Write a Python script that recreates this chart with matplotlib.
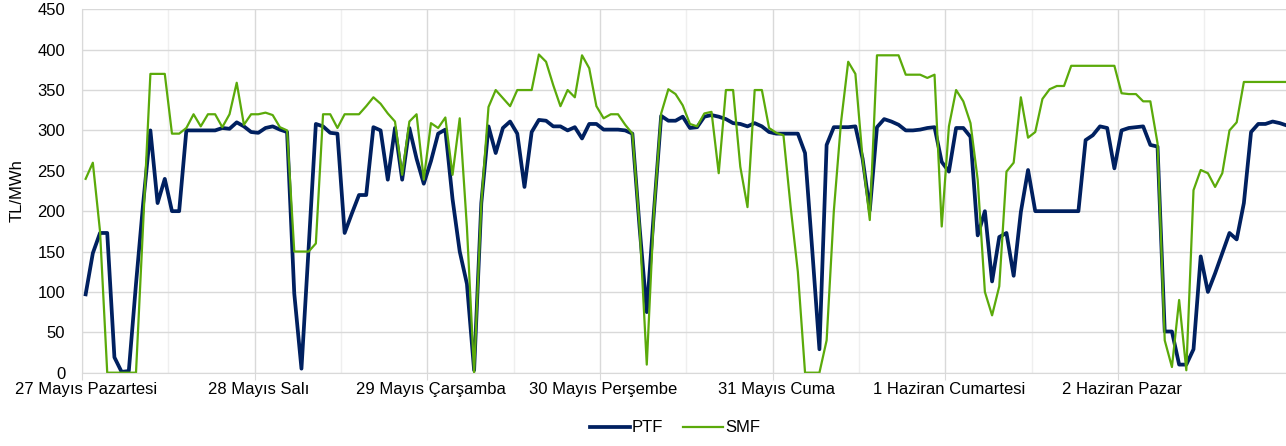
import numpy as np
import matplotlib
matplotlib.use('Agg')
import matplotlib.pyplot as plt

matplotlib.rcParams.update({'font.size': 12, 'font.family': ['Liberation Sans', 'DejaVu Sans']})

days = ['27 Mayıs Pazartesi', '28 Mayıs Salı', '29 Mayıs Çarşamba', '30 Mayıs Perşembe',
        '31 Mayıs Cuma', '1 Haziran Cumartesi', '2 Haziran Pazar']

# hourly prices, TL/MWh, one row per day
ptf_days = [
    [97, 148, 173, 173, 19, 1, 2, 110, 210, 300, 210, 240, 200, 200, 300, 300, 300, 300, 300, 303, 302, 310, 305, 298],
    [297, 303, 305, 301, 298, 98, 5, 155, 308, 305, 297, 296, 173, 197, 220, 220, 304, 300, 239, 303, 239, 303, 265, 234],
    [262, 296, 301, 215, 150, 110, 3, 210, 305, 272, 303, 311, 296, 230, 298, 313, 312, 305, 305, 300, 304, 290, 308, 308],
    [301, 301, 301, 300, 296, 180, 75, 200, 318, 312, 312, 317, 303, 304, 317, 319, 317, 314, 309, 308, 305, 309, 305, 298],
    [296, 296, 296, 296, 272, 152, 29, 282, 304, 304, 304, 305, 265, 201, 304, 314, 311, 307, 300, 300, 301, 303, 304, 261],
    [249, 303, 303, 292, 170, 200, 113, 168, 173, 120, 199, 251, 200, 200, 200, 200, 200, 200, 200, 288, 294, 305, 303, 253],
    [300, 303, 304, 305, 282, 280, 51, 51, 10, 10, 29, 144, 100, 123, 148, 173, 165, 210, 298, 308, 308, 311, 309, 306],
]
smf_days = [
    [240, 260, 175, 0, 0, 0, 0, 0, 185, 370, 370, 370, 296, 296, 303, 320, 305, 320, 320, 304, 320, 359, 307, 320],
    [320, 322, 319, 304, 300, 150, 150, 150, 160, 320, 320, 303, 320, 320, 320, 330, 341, 333, 321, 311, 245, 311, 320, 239],
    [309, 303, 316, 245, 315, 180, 0, 210, 329, 350, 340, 330, 350, 350, 350, 394, 385, 356, 330, 350, 341, 393, 377, 330],
    [315, 320, 320, 307, 296, 181, 10, 200, 321, 351, 345, 331, 308, 305, 321, 323, 247, 350, 350, 255, 205, 350, 350, 303],
    [297, 294, 205, 125, 0, 0, 0, 40, 200, 310, 385, 370, 265, 189, 393, 393, 393, 393, 369, 369, 369, 365, 369, 181],
    [305, 350, 336, 309, 239, 100, 71, 107, 249, 260, 341, 291, 298, 339, 351, 355, 355, 380, 380, 380, 380, 380, 380, 380],
    [346, 345, 345, 336, 336, 284, 40, 7, 90, 3, 226, 251, 247, 230, 247, 300, 310, 360, 360, 360, 360, 360, 360, 360],
]

ptf = np.concatenate(ptf_days)
smf = np.concatenate(smf_days)
hours = np.arange(len(ptf)) + 0.5

fig = plt.figure(figsize=(12.86, 4.46), dpi=100)
ax = fig.add_axes([0.0638, 0.1644, 0.9398, 0.8148])

# light midday lines behind everything
for h in range(12, 168, 24):
    ax.axvline(h, color='#EFEFEF', lw=1, zorder=0)

ax.plot(hours, ptf, color='#002060', lw=2.7, label='PTF', solid_joinstyle='round')
ax.plot(hours, smf, color='#5BAA0A', lw=1.6, label='SMF', solid_joinstyle='round')

ax.set_xlim(0, 168)
ax.set_ylim(0, 450)
ax.set_yticks(np.arange(0, 451, 50))
ax.set_ylabel('TL/MWh', labelpad=9)

ax.set_xticks(np.arange(0, 168, 24))
ax.set_xticklabels([])
ax.set_xticks(np.arange(0, 168, 24) + 0.5, days, minor=True)
ax.tick_params(axis='x', which='major', length=5, color='#D9D9D9')
ax.tick_params(axis='x', which='minor', length=0, pad=7)
ax.tick_params(axis='y', length=0, pad=12)

ax.grid(True, which='major', color='#D9D9D9', lw=1)
ax.set_axisbelow(True)
for s in ['top', 'right']:
    ax.spines[s].set_visible(False)
for s in ['left', 'bottom']:
    ax.spines[s].set_color('#D9D9D9')

fig.legend(loc='lower center', ncol=2, frameon=False, bbox_to_anchor=(0.525, -0.01),
           handlelength=2.4, handletextpad=0.1, columnspacing=1.2)

plt.savefig('out.png', dpi=100)
